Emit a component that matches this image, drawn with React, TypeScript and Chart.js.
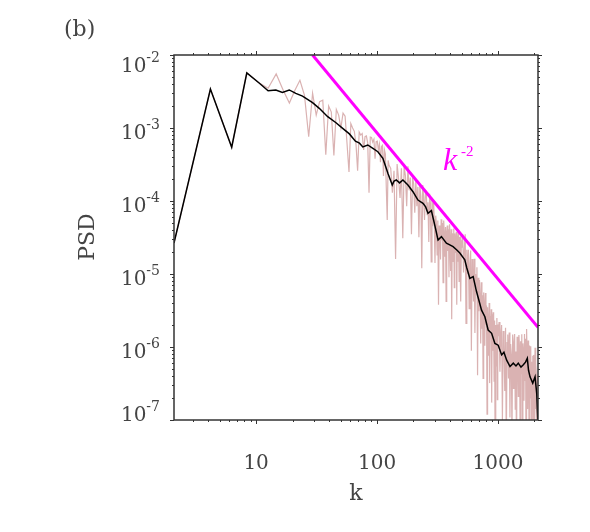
import { useEffect, useRef } from "react";
import { Chart, registerables } from "chart.js";

Chart.register(...registerables);

// wavenumber grid spacing: k = n * DK
const DK = (2 * Math.PI) / 3;

// Smoothed spectrum (black)
const BLACK_K = [2.094, 4.189, 6.283, 8.378, 10.47, 12.57, 14.57, 16.5, 18.8, 21.3, 24.2, 29.3, 33.3, 39.1, 45.8, 52.0, 59.1, 66.3, 71.6, 76.3, 83.9, 91.8, 101.6, 111.8, 117.7, 123, 133.7, 138.4, 144.3, 153.7, 163.8, 180.2, 198.3, 218.1, 240, 252.5, 264, 281.6, 300, 319.6, 341, 375, 399.7, 425.7, 457, 484, 532, 553, 586, 624, 666, 695, 732, 780, 830, 887, 944, 1005, 1073, 1121, 1181, 1259, 1340, 1410, 1473, 1551, 1622, 1691, 1750, 1791, 1843, 1941, 2028, 2094, 2120, 2144];
const BLACK_V = [2.66e-5, 3.42e-3, 5.45e-4, 5.7e-3, 4.2e-3, 3.24e-3, 3.32e-3, 3.08e-3, 3.32e-3, 2.98e-3, 2.74e-3, 2.22e-3, 1.86e-3, 1.43e-3, 1.18e-3, 9.9e-4, 8.3e-4, 6.6e-4, 6.2e-4, 5.5e-4, 5.85e-4, 5.3e-4, 4.73e-4, 3.84e-4, 3.0e-4, 2.4e-4, 1.66e-4, 1.88e-4, 1.94e-4, 1.77e-4, 1.94e-4, 1.66e-4, 1.34e-4, 1.03e-4, 9.3e-5, 8.3e-5, 6.8e-5, 7.4e-5, 4.7e-5, 2.92e-5, 3.25e-5, 2.64e-5, 2.5e-5, 2.37e-5, 2.13e-5, 1.94e-5, 1.56e-5, 1.21e-5, 8.7e-6, 9.2e-6, 5.7e-6, 4.4e-6, 3.2e-6, 2.6e-6, 1.71e-6, 1.54e-6, 1.12e-6, 1.06e-6, 7.8e-7, 8.5e-7, 6.6e-7, 5.4e-7, 6.0e-7, 5.5e-7, 6.0e-7, 5.3e-7, 5.7e-7, 6.2e-7, 7.0e-7, 4.8e-7, 3.9e-7, 3.2e-7, 3.9e-7, 2.3e-7, 1.37e-7, 9e-8];

// Raw spectrum (pink), in segments of mode number n (start, step)
const RAW_A_START = 1, RAW_A_STEP = 1;
const RAW_A = [2.66e-5, 3.42e-3, 5.45e-4, 5.7e-3, 4.2e-3, 3.5e-3, 5.5e-3, 3.3e-3, 2.2e-3, 3.3e-3, 4.5e-3, 2.8e-3, 7.6e-4, 3.0e-3, 1.5e-3, 2.3e-3, 2.4e-3, 4.3e-4, 2.0e-3, 1.65e-3, 4.2e-4, 1.8e-3, 1.5e-3, 1.0e-3, 1.6e-3, 1.45e-3, 6.0e-4, 2.5e-4, 1.15e-3, 1.0e-3, 9.0e-4, 6.0e-4, 2.6e-4, 8.8e-4, 8.0e-4, 8.4e-4, 5.0e-4, 7.6e-4, 7.8e-4, 6.2e-4, 1.3e-4, 7.5e-4, 7.4e-4, 6.4e-4, 7.0e-4, 3.8e-4, 6.5e-4, 6.6e-4, 5.0e-4, 6.0e-4, 3.4e-4, 5.6e-4, 5.8e-4, 2.2e-4, 5.0e-4, 4.4e-4, 1.5e-4, 5.5e-5, 3.6e-4, 3.1e-4];
const RAW_B_START = 62, RAW_B_STEP = 2;
const RAW_B = [2.8e-4, 1.3e-4, 2.6e-4, 1.6e-5, 3.2e-4, 2.0e-4, 1.1e-4, 2.8e-4, 3.1e-5, 3.0e-4, 2.2e-4, 8.5e-5, 3.0e-4, 1.4e-4, 2.1e-4, 3.5e-5, 2.1e-4, 1.7e-4, 6.9e-5, 1.9e-4, 8.5e-5, 1.56e-4, 3.2e-5, 1.6e-4, 1.17e-4, 1.2e-5, 1.66e-4, 1.13e-4, 5.5e-5, 1.3e-4];
const RAW_C_START = 122, RAW_C_STEP = 2;
const RAW_C = [1.32e-4, 6.5e-5, 9.6e-5, 2.75e-5, 1.26e-4, 9.1e-5, 1.46e-5, 1.1e-4, 4.5e-5, 1.05e-4, 5.6e-5, 1.41e-5, 6.3e-5, 4.7e-5, 1.82e-5, 5.4e-5, 3.8e-6, 4.6e-5, 3.7e-5, 1.58e-5, 5.6e-5, 2.9e-5, 5.0e-5, 7.6e-6, 5.4e-5, 3.5e-5, 1.72e-5, 4.4e-5, 4.2e-6, 3.7e-5, 4.6e-5, 2.07e-5, 4.1e-5, 9.0e-6, 4.8e-5, 2.8e-5, 1.1e-5, 4.1e-5, 2.4e-6, 3.6e-5, 3.0e-5, 1.49e-5, 4.2e-5, 6.5e-6, 3.6e-5, 2.9e-5, 1.94e-5, 3.8e-5, 3.8e-6, 3.35e-5, 1.47e-5, 3.9e-5, 2.4e-5, 7.9e-6, 3.2e-5, 1.53e-5, 3.3e-5, 4.2e-6, 2.9e-5, 2.3e-5];
const RAW_D_START = 244, RAW_D_STEP = 4;
const RAW_D = [3.5e-5, 1.05e-5, 2.26e-5, 3.5e-5, 2.1e-6, 2.15e-5, 9.9e-6, 2.14e-5, 3.35e-6, 1.38e-5, 2.1e-5, 8.9e-7, 1.6e-5, 1.15e-5, 4.2e-6, 1.62e-5, 1.55e-6, 1.0e-5, 6.6e-6, 1.24e-5, 4.1e-7, 8.9e-6, 3.1e-6, 8.3e-6, 5.0e-6, 1.12e-6, 7.7e-6, 1.78e-6, 5.1e-6, 3.7e-7, 5.6e-6, 3.8e-6, 1.04e-6, 5.5e-6, 2.0e-6, 3.7e-6, 1.2e-7, 3.5e-6, 2.15e-6, 7.6e-7, 4.0e-6, 3.2e-7, 2.66e-6, 1.78e-6, 3.3e-6, 1.73e-7, 2.8e-6, 8.9e-7, 3.0e-6, 1.58e-6, 3.4e-7, 2.3e-6, 5.6e-8, 2.0e-6, 1.57e-6, 5.5e-7, 2.5e-6, 1.9e-7, 2.03e-6, 1.4e-6];
const RAW_E_START = 488, RAW_E_STEP = 8;
const RAW_E = [2.2e-6, 4.6e-7, 1.33e-6, 2.0e-6, 1.0e-7, 1.66e-6, 1.07e-6, 2.5e-7, 1.84e-6, 4.3e-8, 1.15e-6, 1.48e-6, 3.7e-7, 1.58e-6, 1.08e-7, 1.1e-6, 7.9e-7, 5.8e-8, 1.48e-6, 2.7e-7, 1.17e-6, 1.51e-6, 1.41e-7, 8.7e-7, 2.8e-8, 1.38e-6, 7.4e-7, 2.1e-7, 1.46e-6, 1.0e-6, 7.8e-8, 1.2e-6, 4.3e-7, 1.5e-6, 4.4e-8, 1.12e-6, 8.7e-7, 1.84e-7, 1.51e-6, 3.5e-7, 1.3e-6, 2.6e-8, 1.76e-6, 7.8e-7, 1.41e-7, 1.23e-6, 8.6e-7, 5.0e-8, 1.05e-6, 2.0e-7, 7.5e-7, 1.02e-6, 2.2e-8, 6.3e-7, 2.3e-7, 7.6e-7, 6.6e-8, 7.8e-7, 4.6e-7, 3.8e-8, 9.8e-7, 1.41e-7, 6.0e-7, 4.2e-7, 3.7e-8, 4.0e-7, 4.5e-8, 5.0e-8];

// k^-2 reference line
const REF_K = [29.3, 2145];
const REF_V = [1e-2, 1.865e-6];

const X_MIN = 2.094, X_MAX = 2145;
const Y_MIN = 1e-7, Y_MAX = 1e-2;
const X_MAJOR = [10, 100, 1000];
const X_LABELS = ["10", "100", "1000"];
const Y_EXPS = [-2, -3, -4, -5, -6, -7];

const FONT = "'DejaVu Serif', serif";
const TEXT = "#444";

function seg(start: number, step: number, vals: number[]) {
  return vals.map((v, i) => ({ x: (start + i * step) * DK, y: v }));
}

const decor = {
  id: "decor",
  afterDraw(chart: any) {
    const { ctx, chartArea: a, scales } = chart;
    const xs = scales.x, ys = scales.y;
    ctx.save();
    const line = (x1: number, y1: number, x2: number, y2: number) => {
      ctx.beginPath(); ctx.moveTo(x1, y1); ctx.lineTo(x2, y2); ctx.stroke();
    };
    ctx.strokeStyle = "#333";
    ctx.lineWidth = 1.5;
    ctx.strokeRect(a.left, a.top, a.right - a.left, a.bottom - a.top);
    ctx.lineWidth = 1;
    // x ticks
    for (let e = 0; e <= 3; e++) {
      for (let m = 1; m <= 9; m++) {
        const v = m * Math.pow(10, e);
        if (v < xs.min || v > xs.max) continue;
        const p = Math.round(xs.getPixelForValue(v)) + 0.5;
        const L = m === 1 ? 4 : 2;
        line(p, a.bottom, p, a.bottom + L);
        line(p, a.top, p, a.top - L);
      }
    }
    // y ticks
    for (let e = -7; e <= -2; e++) {
      for (let m = 1; m <= 9; m++) {
        const v = m * Math.pow(10, e);
        if (v < ys.min * 0.999 || v > ys.max * 1.001) continue;
        const p = Math.round(ys.getPixelForValue(v)) + 0.5;
        const L = m === 1 ? 4 : 2;
        line(a.left, p, a.left - L, p);
        line(a.right, p, a.right + L, p);
      }
    }
    ctx.fillStyle = TEXT;
    ctx.textBaseline = "alphabetic";
    // y labels
    Y_EXPS.forEach((e) => {
      const t = ys.getPixelForValue(Math.pow(10, e));
      const base = Math.min(Math.max(t + 11, 72), 421);
      ctx.font = `20px ${FONT}`;
      const wb = ctx.measureText("10").width;
      ctx.font = `14px ${FONT}`;
      const sup = String(e);
      const ws = ctx.measureText(sup).width;
      const right = 160;
      ctx.textAlign = "left";
      ctx.font = `20px ${FONT}`;
      ctx.fillText("10", right - ws - wb, base);
      ctx.font = `14px ${FONT}`;
      ctx.fillText(sup, right - ws, base - 10);
    });
    // x labels
    ctx.font = `20px ${FONT}`;
    ctx.textAlign = "center";
    X_MAJOR.forEach((v, i) => {
      ctx.fillText(X_LABELS[i], xs.getPixelForValue(v), 469);
    });
    // axis titles
    ctx.font = `22px ${FONT}`;
    ctx.fillText("k", (a.left + a.right) / 2, 500);
    ctx.save();
    ctx.translate(88, 237);
    ctx.rotate(-Math.PI / 2);
    ctx.textBaseline = "middle";
    ctx.fillText("PSD", 0, 0);
    ctx.restore();
    // panel label
    ctx.textAlign = "left";
    ctx.textBaseline = "middle";
    ctx.font = `22px ${FONT}`;
    ctx.fillText("(b)", 64, 30);
    // k^-2 annotation
    ctx.fillStyle = "#ff00ff";
    ctx.textBaseline = "alphabetic";
    ctx.font = `italic 32px 'Liberation Serif', serif`;
    ctx.fillText("k", 443, 170);
    ctx.font = `15px 'Liberation Serif', serif`;
    ctx.fillText("-2", 461, 156);
    ctx.restore();
  },
};

export default function App() {
  const ref = useRef<HTMLCanvasElement>(null);
  useEffect(() => {
    document.body.style.margin = "0";
    const raw = [
      ...seg(RAW_A_START, RAW_A_STEP, RAW_A),
      ...seg(RAW_B_START, RAW_B_STEP, RAW_B),
      ...seg(RAW_C_START, RAW_C_STEP, RAW_C),
      ...seg(RAW_D_START, RAW_D_STEP, RAW_D),
      ...seg(RAW_E_START, RAW_E_STEP, RAW_E),
    ];
    const black = BLACK_K.map((k, i) => ({ x: k, y: BLACK_V[i] }));
    const refLine = REF_K.map((k, i) => ({ x: k, y: REF_V[i] }));
    const chart = new Chart(ref.current!, {
      type: "line",
      data: {
        datasets: [
          { data: raw, borderColor: "rgb(218,178,178)", borderWidth: 1.2, pointRadius: 0, tension: 0, order: 3 },
          { data: black, borderColor: "#000", borderWidth: 1.5, pointRadius: 0, tension: 0, order: 2 },
          { data: refLine, borderColor: "#ff00ff", borderWidth: 3, pointRadius: 0, tension: 0, order: 1 },
        ],
      },
      options: {
        responsive: false,
        animation: false,
        events: [],
        layout: { padding: { left: 174, right: 52, top: 55, bottom: 112 } },
        plugins: { legend: { display: false }, tooltip: { enabled: false } },
        scales: {
          x: { type: "logarithmic", min: X_MIN, max: X_MAX, display: false },
          y: { type: "logarithmic", min: Y_MIN, max: Y_MAX, display: false },
        },
      },
      plugins: [decor],
    });
    return () => chart.destroy();
  }, []);
  return (
    <div style={{ position: "absolute", left: 0, top: 0, width: 590, height: 532, background: "#fff" }}>
      <canvas ref={ref} width={590} height={532} />
    </div>
  );
}
